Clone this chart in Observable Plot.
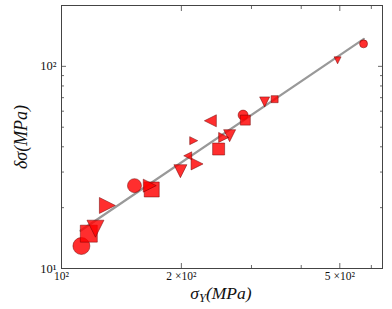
<!DOCTYPE html>
<html>
<head>
<meta charset="utf-8">
<script src="https://cdn.jsdelivr.net/npm/d3@7"></script>
<script src="https://cdn.jsdelivr.net/npm/@observablehq/plot@0.6"></script>
<style>
  html, body { margin: 0; padding: 0; background: #fff; }
  #chart { position: relative; width: 392px; height: 309px; }
</style>
</head>
<body>
<div id="chart"></div>
<script>
// ---- data ----
const sigmaY = [112.2, 117.1, 121.7, 130.4, 152.5, 166.6, 168.5, 198.9, 219.0, 207.5, 214.8,
                248.1, 236.5, 255.4, 264.4, 285.8, 289.5, 323.7, 343.0, 493.6, 573.6];
const deltaSigma = [12.92, 14.87, 15.74, 20.5, 25.7, 25.7, 24.6, 30.3, 32.9, 36.1, 42.9,
                    39.0, 53.8, 44.5, 45.4, 57.4, 54.2, 66.7, 68.8, 107.1, 129.2];
const kinds = ["circle", "square", "down", "right", "circle", "right", "square", "down", "right", "left", "right",
               "square", "left", "right", "down", "circle", "square", "down", "square", "down", "circle"];
const weights = [17, 17, 17, 16, 14, 13, 15, 13, 12, 8, 8, 12, 12, 10, 12, 10, 10, 10, 7, 7, 8];

// power-law fit  δσ = a · σY^b
const fitCoef = 0.02853;
const fitExp = 1.334;
const fitRange = [111.6, 574.6];

const xMajor = [200, 500];
const xMinor = [300, 400, 600];
const yMajor = [10, 100];
const yMinor = [20, 30, 40, 50, 60, 70, 80, 90, 200];
const xLabels = [[100, "10²"], [200, "2 ×10²"], [500, "5 ×10²"]];
const yLabels = [[10, "10¹"], [100, "10²"]];

// ---- build ----
const data = sigmaY.map((x, i) => ({x, y: deltaSigma[i], kind: kinds[i], w: weights[i]}));
const fit = fitRange.map(x => ({x, y: fitCoef * Math.pow(x, fitExp)}));

const rad = size => Math.sqrt(size / Math.PI);
const sym = {
  circle: {draw(c, s) { const r = rad(s); c.moveTo(r, 0); c.arc(0, 0, r, 0, 2 * Math.PI); c.closePath(); }},
  square: {draw(c, s) { const r = rad(s); c.moveTo(-r, -r); c.lineTo(r, -r); c.lineTo(r, r); c.lineTo(-r, r); c.closePath(); }},
  down:   {draw(c, s) { const r = rad(s); c.moveTo(0, r); c.lineTo(-r, -r); c.lineTo(r, -r); c.closePath(); }},
  right:  {draw(c, s) { const r = rad(s); c.moveTo(r, 0); c.lineTo(-r, -r); c.lineTo(-r, r); c.closePath(); }},
  left:   {draw(c, s) { const r = rad(s); c.moveTo(-r, 0); c.lineTo(r, -r); c.lineTo(r, r); c.closePath(); }}
};

const tickStyle = {stroke: "#444", strokeWidth: 0.8};
const font = "'Liberation Serif', 'DejaVu Serif', serif";

const marks = [
  Plot.line(fit, {x: "x", y: "y", stroke: "#999", strokeWidth: 2.2}),
];
for (const k of Object.keys(sym)) {
  marks.push(Plot.dot(data, {
    filter: d => d.kind === k, x: "x", y: "y", r: "w", symbol: sym[k],
    fill: "#ff0000", fillOpacity: 0.82, stroke: "#6a0000", strokeWidth: 0.6, strokeOpacity: 0.8
  }));
}
// inward ticks on all four sides
for (const anchor of ["bottom", "top"]) {
  marks.push(Plot.axisX({anchor, ticks: xMajor, tickSize: -5, tickFormat: () => "", ...tickStyle, label: null}));
  marks.push(Plot.axisX({anchor, ticks: xMinor, tickSize: -3, tickFormat: () => "", ...tickStyle, label: null}));
}
for (const anchor of ["left", "right"]) {
  marks.push(Plot.axisY({anchor, ticks: yMajor, tickSize: -5, tickFormat: () => "", ...tickStyle, label: null}));
  marks.push(Plot.axisY({anchor, ticks: yMinor, tickSize: -3, tickFormat: () => "", ...tickStyle, label: null}));
}
// tick labels
marks.push(Plot.axisX({anchor: "bottom", ticks: xLabels.map(d => d[0]), tickSize: 0, tickPadding: 3,
  tickFormat: v => new Map(xLabels).get(v), fontSize: 11.5, fontFamily: font, fill: "#111", label: null}));
marks.push(Plot.axisY({anchor: "left", ticks: yLabels.map(d => d[0]), tickSize: 0, tickPadding: 5,
  tickFormat: v => new Map(yLabels).get(v), fontSize: 12.5, fontFamily: font, fill: "#111", label: null}));
marks.push(Plot.frame({stroke: "#444", strokeWidth: 1}));

const chart = Plot.plot({
  width: 392, height: 309,
  marginLeft: 61, marginRight: 10, marginTop: 5, marginBottom: 41,
  x: {type: "log", domain: [100, 640]},
  y: {type: "log", domain: [10, 200]},
  r: {type: "linear", domain: [0, 17], range: [0, 8.5]},
  style: {background: "#fff", overflow: "visible"},
  marks
});
document.getElementById("chart").appendChild(chart);

// axis titles (math-style italic labels)
const svg = d3.select(chart);
const xt = svg.append("text").attr("x", 221).attr("y", 299).attr("text-anchor", "middle")
  .attr("font-family", font).attr("font-size", 17.5).attr("font-style", "italic").attr("fill", "#111");
xt.append("tspan").text("σ");
xt.append("tspan").attr("font-size", 12.5).attr("dy", 3).text("Y");
xt.append("tspan").attr("dy", -3).text("(MPa)");
svg.append("text").attr("transform", "translate(27,137) rotate(-90)").attr("text-anchor", "middle")
  .attr("font-family", font).attr("font-size", 18).attr("font-style", "italic").attr("fill", "#111")
  .text("δσ(MPa)");
</script>
</body>
</html>
